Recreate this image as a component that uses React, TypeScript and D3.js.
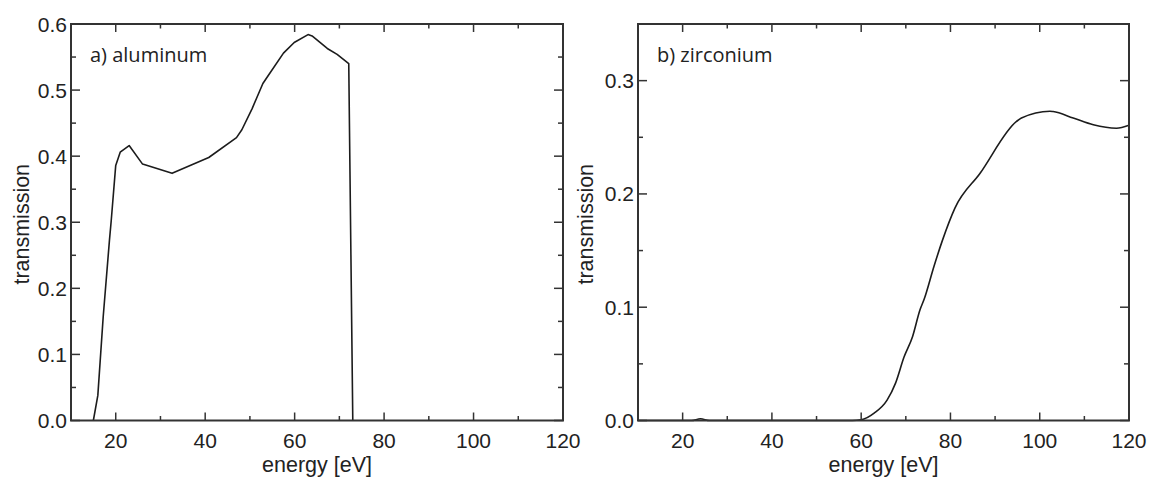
import React from "react";
import * as d3 from "d3";

// ---- data ----
const alEnergy = [15.0, 16.0, 17.2, 18.6, 19.0, 20.0, 21.0, 23.0, 26.0, 32.6, 40.8, 47.0, 48.2, 50.5, 52.9, 54.6, 57.5, 59.9, 63.0, 63.9, 67.3, 69.5, 72.1, 73.0];
const alTrans = [0.0, 0.038, 0.157, 0.273, 0.303, 0.386, 0.406, 0.416, 0.388, 0.374, 0.398, 0.428, 0.44, 0.472, 0.51, 0.527, 0.556, 0.572, 0.584, 0.582, 0.563, 0.554, 0.54, 0.0];

const zrEnergy = [10, 20, 22, 24, 26, 40, 58, 60, 62.9, 65.8, 67.7, 69.6, 71.5, 73.2, 74.1, 76.3, 78.2, 81.0, 86.6, 94.8, 95.9, 102.3, 103.0, 107.5, 112.0, 117.2, 120.0];
const zrTrans = [0, 0, 0, 0.0015, 0, 0, 0, 0.0006, 0.0065, 0.018, 0.033, 0.056, 0.074, 0.098, 0.107, 0.136, 0.159, 0.1875, 0.218, 0.264, 0.267, 0.273, 0.2727, 0.267, 0.261, 0.258, 0.2606];

const xMajor = [20, 40, 60, 80, 100, 120];
const xMinor = [30, 50, 70, 90, 110];
const alYMajor = [0, 0.1, 0.2, 0.3, 0.4, 0.5, 0.6];
const alYMinor = [0.05, 0.15, 0.25, 0.35, 0.45, 0.55];
const zrYMajor = [0, 0.1, 0.2, 0.3];
const zrYMinor = [0.05, 0.15, 0.25];

const xLabel = "energy [eV]";
const yLabel = "transmission";

type PanelProps = {
  left: number; right: number; top: number; bottom: number;
  yMax: number; yMajor: number[]; yMinor: number[];
  xs: number[]; ys: number[]; title: string; smooth: boolean;
  yTitleX: number;
};

const AXIS = "#333";
const INK = "#1c1c1c";
const TICKFONT = "'Liberation Sans', Arial, sans-serif";

function Panel(p: PanelProps) {
  const x = d3.scaleLinear().domain([10, 120]).range([p.left, p.right]);
  const y = d3.scaleLinear().domain([0, p.yMax]).range([p.bottom, p.top]);
  const pts = p.xs.map((e, i) => [e, p.ys[i]] as [number, number]);
  const line = d3.line<[number, number]>()
    .x((d) => x(d[0]))
    .y((d) => y(d[1]))
    .curve(p.smooth ? d3.curveMonotoneX : d3.curveLinear);
  const maj = 8, min = 4.5, ymaj = 9, ymin = 5;
  return (
    <g>
      <path d={line(pts) || ""} fill="none" stroke={INK} strokeWidth={1.6} strokeLinejoin="round" />
      <rect x={p.left} y={p.top} width={p.right - p.left} height={p.bottom - p.top} fill="none" stroke={AXIS} strokeWidth={2} />
      {xMajor.map((t) => (
        <g key={"xM" + t}>
          <line x1={x(t)} x2={x(t)} y1={p.bottom} y2={p.bottom - maj} stroke={AXIS} strokeWidth={1.5} />
          <line x1={x(t)} x2={x(t)} y1={p.top} y2={p.top + maj} stroke={AXIS} strokeWidth={1.5} />
          <text x={x(t)} y={p.bottom + 27} textAnchor="middle" fontFamily={TICKFONT} fontSize={21} fill="#222">{t}</text>
        </g>
      ))}
      {xMinor.map((t) => (
        <g key={"xm" + t}>
          <line x1={x(t)} x2={x(t)} y1={p.bottom} y2={p.bottom - min} stroke={AXIS} strokeWidth={1.5} />
          <line x1={x(t)} x2={x(t)} y1={p.top} y2={p.top + min} stroke={AXIS} strokeWidth={1.5} />
        </g>
      ))}
      {p.yMajor.map((t) => (
        <g key={"yM" + t}>
          <line x1={p.left} x2={p.left + ymaj} y1={y(t)} y2={y(t)} stroke={AXIS} strokeWidth={1.5} />
          <line x1={p.right} x2={p.right - ymaj} y1={y(t)} y2={y(t)} stroke={AXIS} strokeWidth={1.5} />
          <text x={p.left - 4} y={y(t) + 7.5} textAnchor="end" fontFamily={TICKFONT} fontSize={21} fill="#222">{t.toFixed(1)}</text>
        </g>
      ))}
      {p.yMinor.map((t) => (
        <g key={"ym" + t}>
          <line x1={p.left} x2={p.left + ymin} y1={y(t)} y2={y(t)} stroke={AXIS} strokeWidth={1.5} />
          <line x1={p.right} x2={p.right - ymin} y1={y(t)} y2={y(t)} stroke={AXIS} strokeWidth={1.5} />
        </g>
      ))}
      <text x={p.left + 19} y={p.top + 38} fontFamily="'Open Sans', sans-serif" fontSize={20} fill="#222">{p.title}</text>
      <text x={(p.left + p.right) / 2} y={p.bottom + 51} textAnchor="middle" fontFamily={TICKFONT} fontSize={21.5} fill="#222">{xLabel}</text>
      <text transform={`translate(${p.yTitleX},${(p.top + p.bottom) / 2 + 2}) rotate(-90)`} textAnchor="middle" fontFamily={TICKFONT} fontSize={21.5} fill="#222">{yLabel}</text>
    </g>
  );
}

export default function App() {
  return (
    <svg width={1154} height={481} style={{ position: "absolute", left: 0, top: 0, background: "#fff" }}>
      <Panel left={71} right={563} top={24} bottom={420.5} yMax={0.6} yMajor={alYMajor} yMinor={alYMinor}
        xs={alEnergy} ys={alTrans} title="a) aluminum" smooth={false} yTitleX={28.5} />
      <Panel left={638} right={1129} top={24} bottom={420.5} yMax={0.35} yMajor={zrYMajor} yMinor={zrYMinor}
        xs={zrEnergy} ys={zrTrans} title="b) zirconium" smooth={true} yTitleX={593} />
    </svg>
  );
}
